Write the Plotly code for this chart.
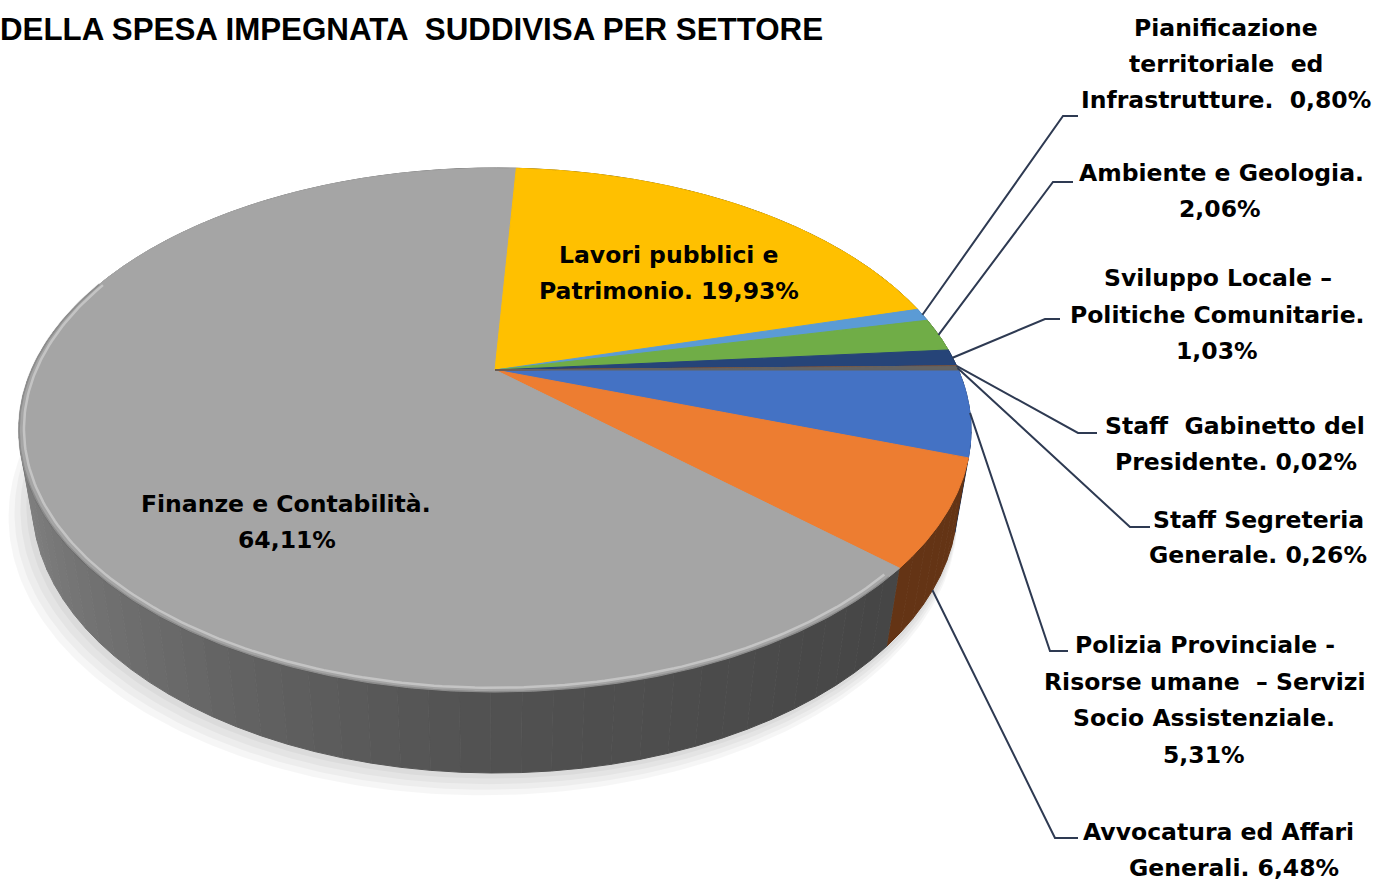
import numpy as np
import plotly.graph_objects as go

# ---------------- data ----------------
sectors = [
    "Polizia Provinciale - Risorse umane  – Servizi Socio Assistenziale",
    "Avvocatura ed Affari Generali",
    "Finanze e Contabilità",
    "Lavori pubblici e Patrimonio",
    "Pianificazione territoriale ed Infrastrutture",
    "Ambiente e Geologia",
    "Sviluppo Locale – Politiche Comunitarie",
    "Staff  Gabinetto del Presidente",
    "Staff Segreteria Generale",
]
values = [5.31, 6.48, 64.11, 19.93, 0.80, 2.06, 1.03, 0.02, 0.26]
colors = ["#4472C4", "#ED7D31", "#A5A5A5", "#FFC000", "#5B9BD5",
          "#70AD47", "#264478", "#9E480E", "#636363"]
label_lines = [
    ["Polizia Provinciale -", "Risorse umane  – Servizi", "Socio Assistenziale.", "{pct}"],
    ["Avvocatura ed Affari", "Generali. {pct}"],
    ["Finanze e Contabilità.", "{pct}"],
    ["Lavori pubblici e", "Patrimonio. {pct}"],
    ["Pianificazione", "territoriale  ed", "Infrastrutture.  {pct}"],
    ["Ambiente e Geologia.", "{pct}"],
    ["Sviluppo Locale –", "Politiche Comunitarie.", "{pct}"],
    ["Staff  Gabinetto del", "Presidente. {pct}"],
    ["Staff Segreteria", "Generale. {pct}"],
]
title_text = "DELLA SPESA IMPEGNATA  SUDDIVISA PER SETTORE"

# ---------------- layout / style ----------------
W, H = 1376, 881
CX, CY = 495, 370          # pie apex on screen
S, C = 0.5357, 0.8444      # sin/cos of viewing tilt
D, F = 3.687, 1708.6       # camera distance / focal
T = 0.1877                 # pie thickness
FIRST_ANGLE = 90.0

# label placement: (center x per line, first line y, line gap, leader)
label_pos = [
    ([1205, 1205, 1204, 1204], 645, 36.5, (1068, 1050, 651), "top"),
    ([1218, 1234], 832, 35.5, (1078, 1055, 838), "base"),
    ([286, 287], 504, 35.5, None, None),
    ([669, 669], 255, 35.5, None, None),
    ([1226, 1226, 1226], 28, 36, (1078, 1063, 116), "top"),
    ([1221, 1220], 173, 35.5, (1073, 1053, 182), "top"),
    ([1218, 1217, 1217], 278, 36.5, (1060, 1045, 319), "top"),
    ([1235, 1236], 426, 36, (1097, 1078, 433), "top"),
    ([1258, 1258], 520, 34.5, (1150, 1130, 527), "top"),
]


def proj(alpha_deg, h=0.0, r=1.0):
    a = np.radians(np.asarray(alpha_deg, dtype=float))
    x = r * np.sin(a)
    z = -r * np.cos(a)
    ydown = z * S - h * C
    depth = z * C + h * S
    X = CX + F * x / (D - depth)
    Y = CY + F * ydown / (D - depth)
    return X, Y


def shade(hexcol, f):
    hexcol = hexcol.lstrip("#")
    rgb = [int(hexcol[i:i + 2], 16) for i in (0, 2, 4)]
    return "rgb(%d,%d,%d)" % tuple(max(0, min(255, round(c * f))) for c in rgb)


def side_factor(alpha):
    a = alpha % 360
    return float(np.interp(a, [0, 90, 133, 180, 265, 290, 360],
                           [0.45, 0.42, 0.42, 0.49, 0.84, 0.86, 0.5]))


total = sum(values)
spans = [v / total * 360.0 for v in values]
starts = FIRST_ANGLE + np.concatenate([[0], np.cumsum(spans)[:-1]])
ends = starts + np.array(spans)

fig = go.Figure()

# soft shadow under the pie
for k in range(4, 0, -1):
    aa = np.linspace(0, 360, 361)
    sx, sy = proj(aa, -T, 1.0 + 0.006 * k)
    fig.add_trace(go.Scatter(x=sx - 3 * k, y=sy + 3 * k, mode="lines", fill="toself",
                             fillcolor="rgba(0,0,0,0.035)", line=dict(width=0),
                             hoverinfo="skip"))

# side walls: split into small segments, back to front
walls = []
for i, (a0, a1) in enumerate(zip(starts, ends)):
    n = max(1, int(np.ceil((a1 - a0) / 3.0)))
    edges = np.linspace(a0, a1, n + 1)
    for b0, b1 in zip(edges[:-1], edges[1:]):
        mid = 0.5 * (b0 + b1)
        walls.append((-np.cos(np.radians(mid)), i, b0, b1))
walls.sort(key=lambda w: w[0])
for _, i, b0, b1 in walls:
    aa = np.linspace(b0, b1, 4)
    tx, ty = proj(aa, 0.0)
    bx, by = proj(aa[::-1], -T)
    col = shade(colors[i], side_factor(0.5 * (b0 + b1)))
    fig.add_trace(go.Scatter(x=np.concatenate([tx, bx]), y=np.concatenate([ty, by]),
                             mode="lines", fill="toself", fillcolor=col,
                             line=dict(width=1, color=col), hoverinfo="skip"))

# top faces
for i, (a0, a1) in enumerate(zip(starts, ends)):
    n = max(2, int((a1 - a0) * 2) + 2)
    aa = np.linspace(a0, a1, n)
    rx, ry = proj(aa, 0.0)
    xs = np.concatenate([[CX], rx, [CX]])
    ys = np.concatenate([[CY], ry, [CY]])
    fig.add_trace(go.Scatter(x=xs, y=ys, mode="lines", fill="toself",
                             fillcolor=colors[i], line=dict(width=1, color=colors[i]),
                             hoverinfo="skip", name=sectors[i]))

# bevel highlight on the front rim of the large slice
aa = np.linspace(starts[2] + 2, 292, 200)
hx, hy = proj(aa, 0.0, 0.99)
fig.add_trace(go.Scatter(x=hx, y=hy, mode="lines",
                         line=dict(width=2.5, color="rgba(255,255,255,0.35)"),
                         hoverinfo="skip"))
hx, hy = proj(aa, 0.0, 1.0)
fig.add_trace(go.Scatter(x=hx, y=hy, mode="lines",
                         line=dict(width=2, color="rgba(90,90,90,0.3)"),
                         hoverinfo="skip"))

# leader lines and labels
annotations = []
lab_font = dict(family="DejaVu Sans", size=23.5, color="black", weight="bold")
for i, v in enumerate(values):
    pct = f"{v:.2f}".replace(".", ",") + "%"
    xs_c, y0, gap, leader, anchor = label_pos[i]
    for j, line in enumerate(label_lines[i]):
        annotations.append(dict(x=xs_c[j], y=y0 + j * gap, xref="x", yref="y",
                                text=line.replace("{pct}", pct), showarrow=False,
                                xanchor="center", yanchor="middle", font=lab_font))
    if leader is not None:
        mid = 0.5 * (starts[i] + ends[i])
        if anchor == "base":
            axp, ayp = proj(mid, -T)
        else:
            axp, ayp = proj(mid, 0.0)
        fig.add_trace(go.Scatter(x=[leader[0], leader[1], float(axp)],
                                 y=[leader[2], leader[2], float(ayp)],
                                 mode="lines", line=dict(width=2, color="#2e3a52"),
                                 hoverinfo="skip"))

annotations.append(dict(x=0, y=29, xref="x", yref="y", text=title_text, showarrow=False,
                        xanchor="left", yanchor="middle", xshift=-2,
                        font=dict(family="Liberation Sans", size=31.3, color="black",
                                  weight="bold")))

fig.update_layout(
    width=W, height=H, margin=dict(l=0, r=0, t=0, b=0),
    paper_bgcolor="white", plot_bgcolor="white", showlegend=False,
    xaxis=dict(range=[0, W], visible=False, fixedrange=True),
    yaxis=dict(range=[H, 0], visible=False, fixedrange=True),
    annotations=annotations,
)
fig.write_html("out.html")
